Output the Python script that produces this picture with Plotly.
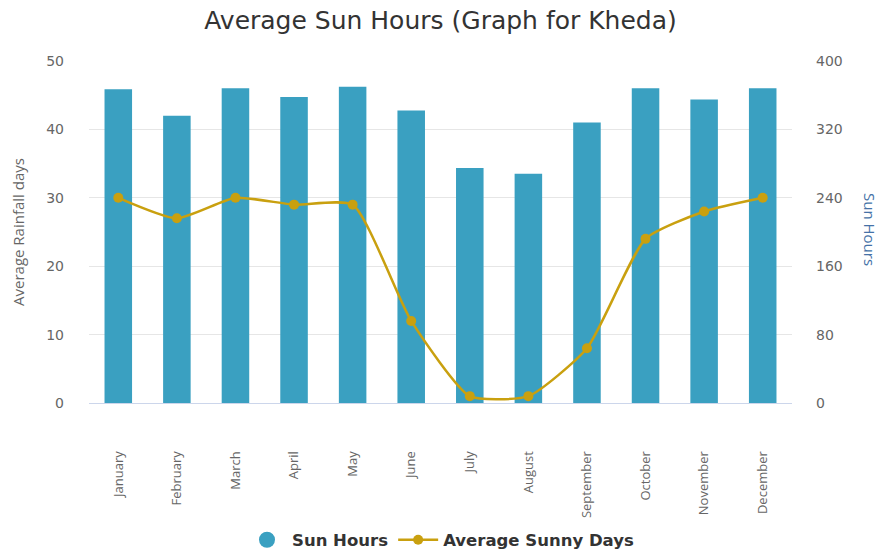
import plotly.graph_objects as go

months = ["January", "February", "March", "April", "May", "June", "July",
          "August", "September", "October", "November", "December"]
sun_hours = [367, 336, 368, 358, 370, 342, 275, 268, 328, 368, 355, 368]
sunny_days = [30, 27, 30, 29, 29, 12, 1, 1, 8, 24, 28, 30]

bar_color = "#3aa0c1"
line_color = "#c9a00f"

fig = go.Figure()
fig.add_trace(go.Bar(x=months, y=sun_hours, name="Sun Hours", yaxis="y",
                     marker=dict(color=bar_color, line=dict(width=0)),
                     width=0.47, showlegend=False))
fig.add_trace(go.Scatter(x=[None], y=[None], name="Sun Hours", mode="markers",
                         marker=dict(color=bar_color, size=17, symbol="circle"),
                         yaxis="y", showlegend=True))
fig.add_trace(go.Scatter(x=months, y=sunny_days, name="Average Sunny Days",
                         mode="lines+markers",
                         line=dict(color=line_color, width=2.5, shape="spline", smoothing=0.55),
                         marker=dict(color=line_color, size=10), yaxis="y2"))

fig.update_layout(
    width=881, height=550,
    paper_bgcolor="white", plot_bgcolor="white",
    margin=dict(l=89, r=89, t=61, b=147),
    title=dict(text="Average Sun Hours (Graph for Kheda)", x=0.5, xanchor="center",
               y=1 - 20 / 550, yanchor="middle",
               font=dict(family="DejaVu Sans", size=25, color="#333333")),
    xaxis=dict(showgrid=False, tickangle=-90, ticklabelstandoff=42, automargin=False,
               range=[-0.5, len(months) - 0.5],
               tickfont=dict(family="Open Sans", size=13, color="#666666"),
               showline=True, linecolor="#ccd6eb", linewidth=1, ticks=""),
    yaxis=dict(range=[0, 400], dtick=80, side="right", gridcolor="#e6e6e6",
               zeroline=False, ticklabelstandoff=23, automargin=False,
               tickfont=dict(family="DejaVu Sans", size=14, color="#666666")),
    yaxis2=dict(range=[0, 50], dtick=10, overlaying="y", side="left", showgrid=False,
                zeroline=False, ticklabelstandoff=24, automargin=False,
                tickfont=dict(family="DejaVu Sans", size=14, color="#666666"),
                title=dict(text="Average Rainfall days", standoff=17,
                           font=dict(family="Open Sans", size=15, color="#666666"))),
    legend=dict(orientation="h", x=0.5, xanchor="center", yref="container",
                y=(550 - 540) / 550, yanchor="middle", bgcolor="rgba(0,0,0,0)",
                font=dict(family="DejaVu Sans", size=16.5, color="#333333", weight="bold"),
                itemwidth=40),
    annotations=[dict(text="Sun Hours", xref="paper", yref="paper",
                      x=(870 - 89) / 703, y=(403 - 230) / 342, textangle=90,
                      showarrow=False, xanchor="center", yanchor="middle",
                      font=dict(family="Open Sans", size=15, color="#4572a7"))],
)

fig.write_html("out.html", config={"displayModeBar": False},
               post_script="document.body.style.margin='0';")
